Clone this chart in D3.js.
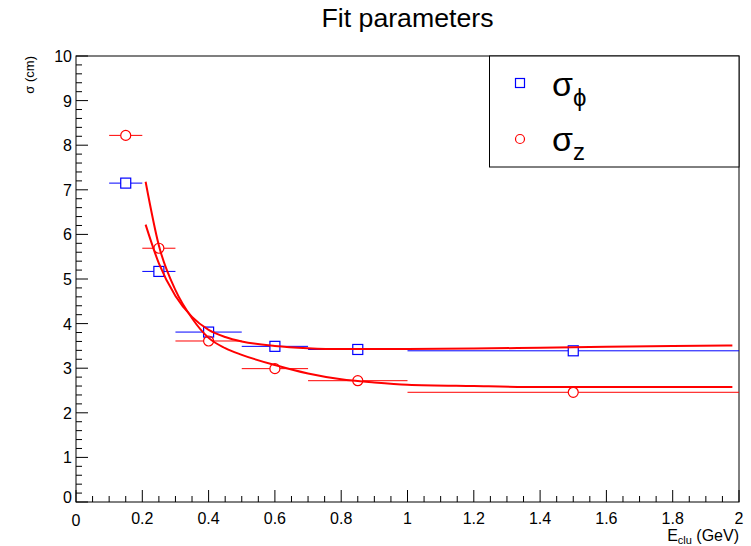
<!DOCTYPE html>
<html>
<head>
<meta charset="utf-8">
<script src="https://cdn.jsdelivr.net/npm/d3@7"></script>
<style>
  body { margin: 0; background: #fff; }
  svg { display: block; font-family: "Liberation Sans", Arial, sans-serif; }
</style>
</head>
<body>
<div id="chart"></div>
<script>
// bins (GeV)
const binCenters = [0.15, 0.25, 0.4, 0.6, 0.85, 1.5];
const binLow = [0.1, 0.2, 0.3, 0.5, 0.7, 1.0];
const binHigh = [0.2, 0.3, 0.5, 0.7, 1.0, 2.0];

// fitted widths (cm)
const sigmaPhi = [7.15, 5.17, 3.81, 3.49, 3.42, 3.39];
const sigmaZ = [8.22, 5.69, 3.61, 2.99, 2.72, 2.46];

// fit curves
const fitX = [0.21, 0.25, 0.3, 0.35, 0.4, 0.45, 0.5, 0.6, 0.7, 0.8, 0.9, 1.0, 1.2, 1.4, 1.6, 1.8, 1.98];
const fitPhi = [6.22, 5.35, 4.62, 4.15, 3.86, 3.7, 3.6, 3.5, 3.45, 3.43, 3.43, 3.43, 3.44, 3.46, 3.48, 3.5, 3.51];
const fitZ = [7.18, 5.75, 4.75, 4.12, 3.68, 3.45, 3.3, 3.07, 2.88, 2.75, 2.68, 2.63, 2.6, 2.58, 2.58, 2.58, 2.58];

const xTicks = [0, 0.2, 0.4, 0.6, 0.8, 1, 1.2, 1.4, 1.6, 1.8, 2];
const yTicks = [0, 1, 2, 3, 4, 5, 6, 7, 8, 9, 10];

const width = 751, height = 546;
const frame = { left: 76, right: 739, top: 56, bottom: 502 };

const svg = d3.select("#chart").append("svg")
  .attr("width", width)
  .attr("height", height);

const x = d3.scaleLinear().domain([0, 2]).range([frame.left, frame.right]);
const y = d3.scaleLinear().domain([0, 10]).range([frame.bottom, frame.top]);

// title
svg.append("text")
  .attr("x", (frame.left + frame.right) / 2)
  .attr("y", 27)
  .attr("text-anchor", "middle")
  .attr("font-size", 26)
  .attr("textLength", 172)
  .attr("lengthAdjust", "spacingAndGlyphs")
  .text("Fit parameters");

// frame
svg.append("rect")
  .attr("x", frame.left)
  .attr("y", frame.top)
  .attr("width", frame.right - frame.left)
  .attr("height", frame.bottom - frame.top)
  .attr("fill", "none")
  .attr("stroke", "#000")
  .attr("stroke-width", 1);

// x axis ticks
const xMinor = d3.range(0, 2.0001, 0.05);
svg.append("g").selectAll("line")
  .data(xMinor)
  .join("line")
  .attr("x1", (d) => x(d))
  .attr("x2", (d) => x(d))
  .attr("y1", frame.bottom)
  .attr("y2", (d, i) => frame.bottom - (i % 4 === 0 ? 12 : 6))
  .attr("stroke", "#000");

svg.append("g").selectAll("text")
  .data(xTicks)
  .join("text")
  .attr("x", (d) => x(d))
  .attr("y", (d) => (d === 0 ? 526 : 524))
  .attr("text-anchor", "middle")
  .attr("font-size", 16)
  .text((d) => d3.format("~g")(d));

// y axis ticks
const yMinor = d3.range(0, 10.0001, 0.2);
svg.append("g").selectAll("line")
  .data(yMinor)
  .join("line")
  .attr("x1", frame.left)
  .attr("x2", (d, i) => frame.left + (i % 5 === 0 ? 12 : 6))
  .attr("y1", (d) => y(d))
  .attr("y2", (d) => y(d))
  .attr("stroke", "#000");

svg.append("g").selectAll("text")
  .data(yTicks)
  .join("text")
  .attr("x", 72)
  .attr("y", (d) => y(d) + (d === 0 ? 1 : 6))
  .attr("text-anchor", "end")
  .attr("font-size", 16)
  .text((d) => d);

// axis titles
svg.append("text")
  .attr("transform", `translate(34,${frame.top}) rotate(-90)`)
  .attr("text-anchor", "end")
  .attr("font-size", 13)
  .text("σ (cm)");

const xTitle = svg.append("text")
  .attr("x", frame.right)
  .attr("y", 541)
  .attr("text-anchor", "end")
  .attr("font-size", 16);
xTitle.append("tspan").text("E");
xTitle.append("tspan").attr("font-size", 11).attr("dy", 3).text("clu");
xTitle.append("tspan").attr("dy", -3).text(" (GeV)");

// points with horizontal error bars
const series = [
  { values: sigmaPhi, color: "#0000ff", marker: "square" },
  { values: sigmaZ, color: "#ff0000", marker: "circle" },
];
const half = 5;

series.forEach((s) => {
  const g = svg.append("g");
  const pts = binCenters.map((c, i) => ({ c, lo: binLow[i], hi: binHigh[i], v: s.values[i] }));

  g.selectAll(".err-left")
    .data(pts)
    .join("line")
    .attr("x1", (d) => x(d.lo))
    .attr("x2", (d) => x(d.c) - half)
    .attr("y1", (d) => y(d.v))
    .attr("y2", (d) => y(d.v))
    .attr("stroke", s.color);

  g.selectAll(".err-right")
    .data(pts)
    .join("line")
    .attr("x1", (d) => x(d.c) + half)
    .attr("x2", (d) => x(d.hi))
    .attr("y1", (d) => y(d.v))
    .attr("y2", (d) => y(d.v))
    .attr("stroke", s.color);

  if (s.marker === "square") {
    g.selectAll(".mk")
      .data(pts)
      .join("rect")
      .attr("x", (d) => x(d.c) - half)
      .attr("y", (d) => y(d.v) - half)
      .attr("width", half * 2)
      .attr("height", half * 2)
      .attr("fill", "none")
      .attr("stroke", s.color)
      .attr("stroke-width", 1.2);
  } else {
    g.selectAll(".mk")
      .data(pts)
      .join("circle")
      .attr("cx", (d) => x(d.c))
      .attr("cy", (d) => y(d.v))
      .attr("r", half)
      .attr("fill", "none")
      .attr("stroke", s.color)
      .attr("stroke-width", 1.2);
  }
});

// fit curves
const line = d3.line()
  .x((d) => x(d[0]))
  .y((d) => y(d[1]))
  .curve(d3.curveMonotoneX);

[fitPhi, fitZ].forEach((f) => {
  svg.append("path")
    .attr("d", line(fitX.map((v, i) => [v, f[i]])))
    .attr("fill", "none")
    .attr("stroke", "#ff0000")
    .attr("stroke-width", 2);
});

// legend
const legend = svg.append("g");
legend.append("rect")
  .attr("x", 489.5)
  .attr("y", frame.top)
  .attr("width", frame.right - 489.5)
  .attr("height", 111)
  .attr("fill", "#fff")
  .attr("stroke", "#000");

legend.append("rect")
  .attr("x", 520 - 4.5)
  .attr("y", 83 - 4.5)
  .attr("width", 9)
  .attr("height", 9)
  .attr("fill", "none")
  .attr("stroke", "#0000ff")
  .attr("stroke-width", 1.2);

legend.append("circle")
  .attr("cx", 520)
  .attr("cy", 139)
  .attr("r", 4.5)
  .attr("fill", "none")
  .attr("stroke", "#ff0000")
  .attr("stroke-width", 1.2);

const l1 = legend.append("text").attr("x", 552).attr("y", 96).attr("font-size", 34);
l1.append("tspan").text("σ");
l1.append("tspan").attr("font-size", 24).attr("dy", 10).text("ϕ");

const l2 = legend.append("text").attr("x", 552).attr("y", 151).attr("font-size", 34);
l2.append("tspan").text("σ");
l2.append("tspan").attr("font-size", 24).attr("dy", 9).text("z");
</script>
</body>
</html>
